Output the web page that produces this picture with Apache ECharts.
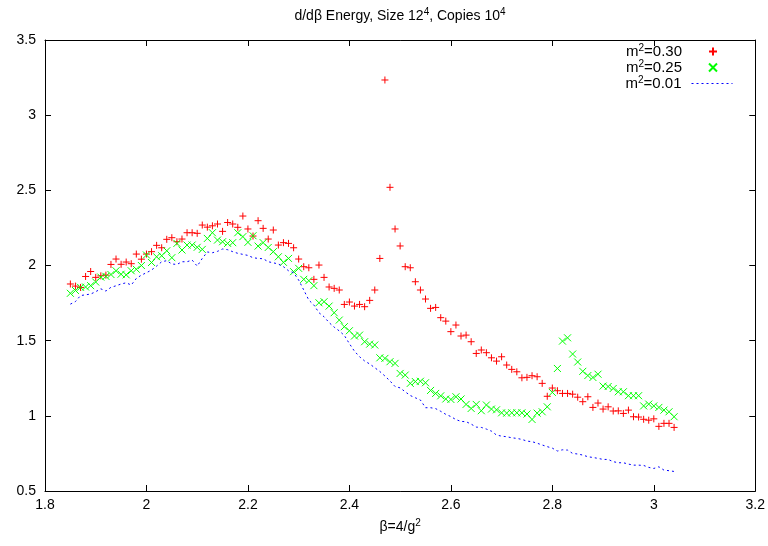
<!DOCTYPE html>
<html>
<head>
<meta charset="utf-8">
<script src="https://cdn.jsdelivr.net/npm/echarts@6/dist/echarts.min.js"></script>
<style>html,body{margin:0;padding:0;background:#fff}#c{width:768px;height:546px}</style>
</head>
<body>
<div id="c"></div>
<script>
const beta = [
1.85,1.86,1.87,1.88,1.89,1.90,1.91,1.92,1.93,1.94,
1.95,1.96,1.97,1.98,1.99,2.00,2.01,2.02,2.03,2.04,
2.05,2.06,2.07,2.08,2.09,2.10,2.11,2.12,2.13,2.14,
2.15,2.16,2.17,2.18,2.19,2.20,2.21,2.22,2.23,2.24,
2.25,2.26,2.27,2.28,2.29,2.30,2.31,2.32,2.33,2.34,
2.35,2.36,2.37,2.38,2.39,2.40,2.41,2.42,2.43,2.44,
2.45,2.46,2.47,2.48,2.49,2.50,2.51,2.52,2.53,2.54,
2.55,2.56,2.57,2.58,2.59,2.60,2.61,2.62,2.63,2.64,
2.65,2.66,2.67,2.68,2.69,2.70,2.71,2.72,2.73,2.74,
2.75,2.76,2.77,2.78,2.79,2.80,2.81,2.82,2.83,2.84,
2.85,2.86,2.87,2.88,2.89,2.90,2.91,2.92,2.93,2.94,
2.95,2.96,2.97,2.98,2.99,3.00,3.01,3.02,3.03,3.04];

const m030 = [
1.877,1.863,1.854,1.927,1.960,1.921,1.931,1.936,2.007,2.043,
2.008,2.023,2.012,2.076,2.042,2.076,2.092,2.134,2.118,2.174,
2.185,2.158,2.176,2.218,2.218,2.214,2.269,2.255,2.264,2.276,
2.227,2.286,2.276,2.254,2.329,2.243,2.196,2.298,2.247,2.176,
2.236,2.136,2.152,2.147,2.118,2.043,1.992,1.985,1.908,2.003,
1.921,1.857,1.848,1.837,1.741,1.757,1.730,1.741,1.726,1.768,
1.837,2.047,3.234,2.520,2.243,2.130,1.992,1.985,1.892,1.837,
1.777,1.715,1.721,1.653,1.630,1.560,1.604,1.531,1.537,1.493,
1.415,1.438,1.420,1.386,1.364,1.393,1.338,1.309,1.293,1.253,
1.256,1.267,1.260,1.216,1.130,1.185,1.167,1.149,1.149,1.144,
1.124,1.094,1.127,1.056,1.085,1.045,1.060,1.032,1.033,1.016,
1.038,0.994,0.992,0.977,0.971,0.980,0.930,0.950,0.950,0.923];

const m025 = [
1.815,1.834,1.855,1.857,1.866,1.890,1.923,1.928,1.940,1.965,
1.942,1.938,1.965,1.975,2.000,2.070,2.020,2.058,2.065,2.098,
2.052,2.147,2.103,2.136,2.136,2.121,2.107,2.180,2.218,2.169,
2.158,2.147,2.152,2.218,2.192,2.154,2.198,2.129,2.152,2.120,
2.092,2.058,2.021,2.047,1.959,1.981,1.908,1.899,1.866,1.752,
1.759,1.730,1.686,1.637,1.593,1.566,1.531,1.537,1.493,1.477,
1.471,1.386,1.382,1.360,1.349,1.282,1.271,1.216,1.228,1.230,
1.220,1.169,1.149,1.133,1.112,1.109,1.127,1.112,1.076,1.049,
1.076,1.034,1.072,1.045,1.040,1.020,1.018,1.020,1.020,1.020,
1.012,0.976,1.018,1.027,1.060,1.156,1.315,1.497,1.519,1.411,
1.358,1.296,1.268,1.255,1.277,1.198,1.195,1.182,1.160,1.160,
1.134,1.134,1.134,1.066,1.078,1.066,1.056,1.038,1.027,0.994];

const m001 = [
1.743,1.760,1.800,1.805,1.810,1.826,1.845,1.830,1.855,1.865,
1.877,1.885,1.870,1.914,1.936,1.952,1.970,1.996,2.025,2.032,
2.010,2.007,2.025,2.025,2.036,1.996,2.047,2.090,2.085,2.094,
2.110,2.105,2.092,2.081,2.074,2.067,2.052,2.047,2.045,2.025,
2.018,2.010,1.992,1.965,1.952,1.903,1.837,1.770,1.737,1.686,
1.659,1.620,1.590,1.565,1.535,1.480,1.430,1.393,1.365,1.345,
1.320,1.295,1.265,1.232,1.195,1.186,1.160,1.135,1.120,1.105,
1.054,1.054,1.048,1.030,1.010,0.995,0.975,0.963,0.961,0.945,
0.925,0.923,0.912,0.898,0.872,0.865,0.861,0.854,0.850,0.843,
0.832,0.828,0.818,0.806,0.795,0.785,0.766,0.774,0.772,0.750,
0.746,0.739,0.728,0.723,0.717,0.710,0.710,0.695,0.688,0.688,
0.679,0.672,0.672,0.670,0.657,0.650,0.661,0.639,0.635,0.630];

const seriesNames = ['m2=0.30', 'm2=0.25', 'm2=0.01'];
const legendLabels = ['0.30', '0.25', '0.01'];

const FONT = 'Liberation Sans, Arial, sans-serif';
const plusPath = 'path://M0,5L10,5M5,0L5,10';
const crossPath = 'path://M0,0L10,10M0,10L10,0';

function pairs(xs, ys) { return xs.map((x, i) => [x, ys[i]]); }

const chart = echarts.init(document.getElementById('c'), null, {renderer: 'canvas'});

const axisLine = {show: true, lineStyle: {color: '#000', width: 1}};
const supRich = {
  t: {fontSize: 14, fontFamily: FONT, color: '#000', lineHeight: 16, verticalAlign: 'bottom'},
  s: {fontSize: 10, fontFamily: FONT, color: '#000', lineHeight: 16, verticalAlign: 'top', padding: [0, 0, 6, 0]}
};

function legendFor(i, right, top, iconW, iconH, padRight, hideSymbol) {
  const item = {name: seriesNames[i]};
  if (hideSymbol) {
    item.itemStyle = {opacity: 0, color: 'rgba(0,0,0,0)', borderWidth: 0};
    item.lineStyle = {width: 1, color: '#0000ff', type: [2, 3]};
  }
  return {
    data: [item],
    right: right, top: top, padding: 0,
    orient: 'vertical', align: 'right',
    itemWidth: iconW, itemHeight: iconH,
    selectedMode: false,
    formatter: () => '{t|m}{s|2}{t|=' + legendLabels[i] + '}',
    textStyle: {
      fontSize: 15, fontFamily: FONT, color: '#000', padding: [0, padRight, 0, 0],
      rich: {
        t: {fontSize: 15, fontFamily: FONT, color: '#000', lineHeight: 17},
        s: {fontSize: 10, fontFamily: FONT, color: '#000', lineHeight: 17, verticalAlign: 'top', padding: [0, 0, 7, 0]}
      }
    }
  };
}

const option = {
  animation: false,
  backgroundColor: '#fff',
  title: {
    text: '{t|d/d\u03b2 Energy, Size 12}{s|4}{t|, Copies 10}{s|4}',
    left: 400, top: 7, textAlign: 'center', padding: 0,
    textStyle: {fontSize: 14, fontFamily: FONT, fontWeight: 'normal', color: '#000', rich: supRich}
  },
  legend: [
    legendFor(0, 50, 43, 8, 8, 22, false),
    legendFor(1, 50, 59, 8, 8, 22, false),
    legendFor(2, 35, 75, 41, 8, 5, true)
  ],
  grid: {left: 45, right: 12, top: 40, bottom: 55, containLabel: false},
  xAxis: [
    {
      type: 'value', position: 'bottom', min: 1.8, max: 3.2, interval: 0.2,
      axisLine: axisLine,
      axisTick: {show: true, inside: true, length: 6, lineStyle: {color: '#000'}},
      axisLabel: {margin: 7, fontSize: 14, fontFamily: FONT, color: '#000'},
      splitLine: {show: false},
      name: '{t|\u03b2=4/g}{s|2}', nameLocation: 'middle', nameGap: 27,
      nameTextStyle: {fontSize: 14, fontFamily: FONT, color: '#000', rich: supRich}
    },
    {
      type: 'value', position: 'top', min: 1.8, max: 3.2, interval: 0.2,
      axisLine: axisLine,
      axisTick: {show: true, inside: true, length: 6, lineStyle: {color: '#000'}},
      axisLabel: {show: false}, splitLine: {show: false}
    }
  ],
  yAxis: [
    {
      type: 'value', position: 'left', min: 0.5, max: 3.5, interval: 0.5,
      axisLine: axisLine,
      axisTick: {show: true, inside: true, length: 6, lineStyle: {color: '#000'}},
      axisLabel: {margin: 9, fontSize: 14, fontFamily: FONT, color: '#000'},
      splitLine: {show: false}
    },
    {
      type: 'value', position: 'right', min: 0.5, max: 3.5, interval: 0.5,
      axisLine: axisLine,
      axisTick: {show: true, inside: true, length: 6, lineStyle: {color: '#000'}},
      axisLabel: {show: false}, splitLine: {show: false}
    }
  ],
  series: [
    {
      name: seriesNames[0], type: 'scatter', data: pairs(beta, m030),
      symbol: plusPath, symbolSize: 7,
      itemStyle: {color: 'rgba(0,0,0,0)', borderColor: '#ff0000', borderWidth: 1, opacity: 1},
      emphasis: {disabled: true}, z: 3
    },
    {
      name: seriesNames[1], type: 'scatter', data: pairs(beta, m025),
      symbol: crossPath, symbolSize: 7,
      itemStyle: {color: 'rgba(0,0,0,0)', borderColor: '#00ff00', borderWidth: 1, opacity: 1},
      emphasis: {disabled: true}, z: 4
    },
    {
      name: seriesNames[2], type: 'line', data: pairs(beta, m001),
      symbol: 'none', showSymbol: false,
      lineStyle: {color: '#0000ff', width: 1, type: [2, 3]},
      itemStyle: {color: '#0000ff'},
      emphasis: {disabled: true}, z: 5
    }
  ]
};
chart.setOption(option);
</script>
</body>
</html>
